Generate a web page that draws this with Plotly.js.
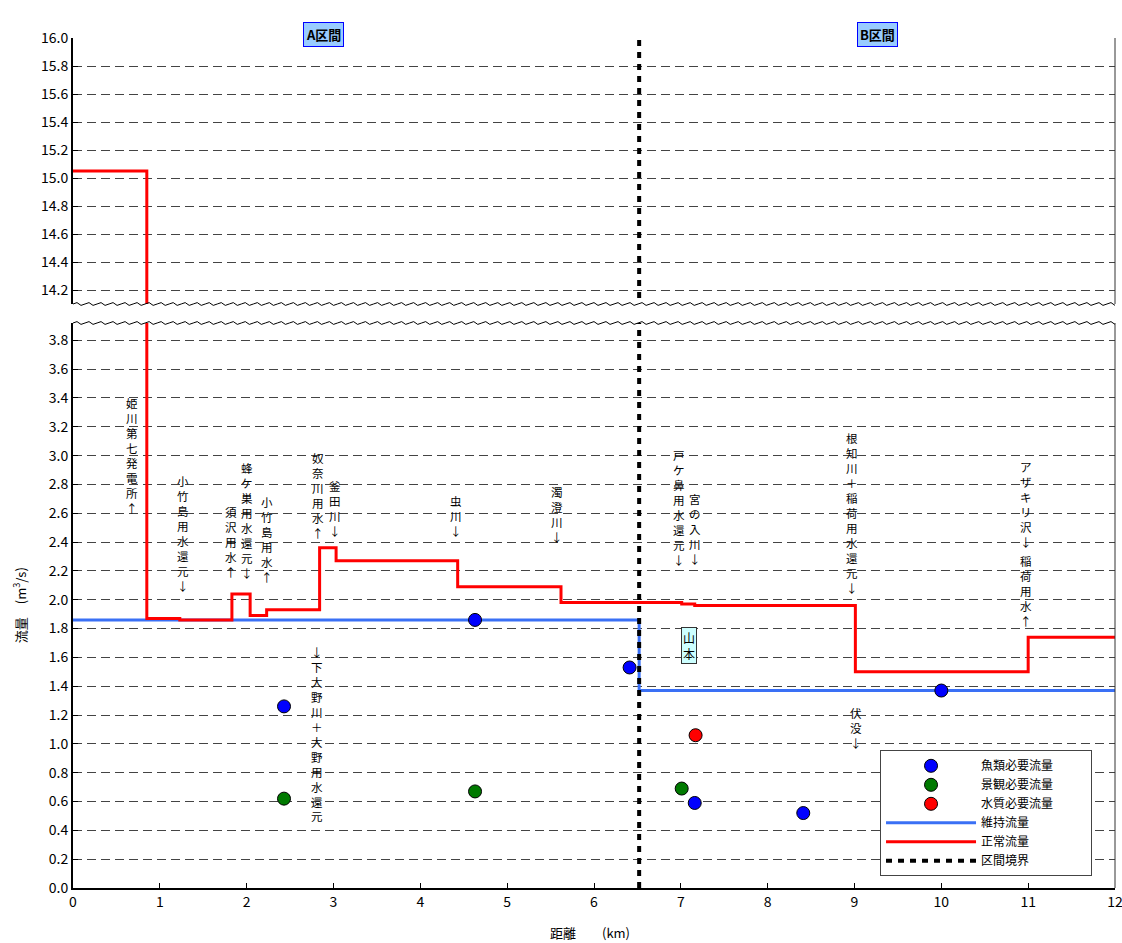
<!DOCTYPE html>
<html>
<head>
<meta charset="utf-8">
<script src="https://cdn.plot.ly/plotly-3.0.1.min.js"></script>
<style>html,body{margin:0;padding:0;background:#fff;}#chart{width:1122px;height:943px;}</style>
</head>
<body>
<div id="chart"></div>
<script>
// ---- data ----
const normalX = [0, 0.85, 1.23, 1.83, 2.04, 2.23, 2.84, 3.03, 4.43, 5.62, 7.01, 7.16, 9.01, 11.0, 12];
const normalY = [15.05, 1.87, 1.86, 2.04, 1.89, 1.93, 2.36, 2.27, 2.09, 1.98, 1.97, 1.96, 1.50, 1.74, 1.74];
const maintX = [0, 6.52, 12];
const maintY = [1.86, 1.37, 1.37];
const fishX = [2.43, 4.63, 6.41, 7.16, 8.41, 10.0];
const fishY = [1.26, 1.86, 1.53, 0.59, 0.52, 1.37];
const sceneX = [2.43, 4.63, 7.01];
const sceneY = [0.62, 0.67, 0.69];
const qualX = [7.17];
const qualY = [1.06];
const boundaryX = [6.52, 6.52];
const boundaryY = [0, 16];
const lowerTicks = [0,0.2,0.4,0.6,0.8,1.0,1.2,1.4,1.6,1.8,2.0,2.2,2.4,2.6,2.8,3.0,3.2,3.4,3.6,3.8];
const upperTicks = [14.2,14.4,14.6,14.8,15.0,15.2,15.4,15.6,15.8,16.0];
const xTicks = [0,1,2,3,4,5,6,7,8,9,10,11,12];
const labelTexts = ['姫川第七発電所↑','小竹島用水還元↓','須沢用水↑','蜂ケ巣用水還元↓','小竹島用水↑','奴奈川用水↑','釜田川↓','虫川↓','濁澄川↓','戸ケ鼻用水還元↓','宮の入川↓','根知川＋稲荷用水還元↓','アザキリ沢↓','稲荷用水↑','↓下大野川＋大野用水還元','伏没↓'];
const labelX = [0.675, 1.27, 1.82, 2.0, 2.23, 2.82, 3.02, 4.41, 5.57, 6.98, 7.16, 8.97, 10.98, 10.98, 2.81, 9.02];
const labelY = [3.0, 2.46, 2.40, 2.55, 2.42, 2.72, 2.63, 2.58, 2.59, 2.64, 2.49, 2.60, 2.66, 2.06, 1.07, 1.11];
const sectionNames = ['A区間', 'B区間'];
const sectionX = [2.88, 9.27];

const FONT = '"Noto Sans CJK JP", "Noto Sans", sans-serif';
const gridDash = '9px,5px';
const pad = '\u00a0\u00a0\u00a0\u00a0\u00a0\u00a0\u00a0\u00a0\u00a0\u00a0\u00a0\u00a0';

const fishT = {x: fishX, y: fishY, xaxis:'x', yaxis:'y', mode:'markers', name:'魚類必要流量' + pad, legendrank:1,
   marker:{color:'#0000ff', size:13, line:{color:'#000', width:1}}};
const sceneT = {x: sceneX, y: sceneY, xaxis:'x', yaxis:'y', mode:'markers', name:'景観必要流量', legendrank:2,
   marker:{color:'#007a00', size:13, line:{color:'#000', width:1}}};
const qualT = {x: qualX, y: qualY, xaxis:'x', yaxis:'y', mode:'markers', name:'水質必要流量', legendrank:3,
   marker:{color:'#ff0000', size:13, line:{color:'#000', width:1}}};
const maintT = {x: maintX, y: maintY, xaxis:'x', yaxis:'y', mode:'lines', name:'維持流量', legendrank:4,
   line:{color:'#3a70f5', width:3, shape:'hv'}};
const normalT = {x: normalX, y: normalY, xaxis:'x', yaxis:'y', mode:'lines', name:'正常流量', legendrank:5,
   line:{color:'#ff0000', width:3, shape:'hv'}};
const boundT = {x: boundaryX, y: boundaryY, xaxis:'x', yaxis:'y', mode:'lines', name:'区間境界', legendrank:6,
   line:{color:'#000', width:4, dash:'6px,6px'}};
const normalT2 = {x: normalX, y: normalY, xaxis:'x2', yaxis:'y2', mode:'lines', showlegend:false,
   line:{color:'#ff0000', width:3, shape:'hv'}, hoverinfo:'skip'};
const boundT2 = {x: boundaryX, y: boundaryY, xaxis:'x2', yaxis:'y2', mode:'lines', showlegend:false,
   line:{color:'#000', width:4, dash:'6px,6px'}, hoverinfo:'skip'};
const data = [maintT, normalT, boundT, normalT2, boundT2, fishT, sceneT, qualT];

const annotations = labelTexts.map((t, i) => ({
  text: Array.from(t).join('<br>'), x: labelX[i], y: labelY[i], xref:'x', yref:'y',
  showarrow:false, font:{family:FONT, size:11.5, color:'#000'}, xanchor:'center', yanchor:'middle'
}));
annotations.push({text:'山<br>本', x:7.09, y:1.68, xref:'x', yref:'y', showarrow:false,
  font:{family:FONT, size:12, color:'#000'}, bgcolor:'#ccffff', bordercolor:'#333', borderwidth:1, borderpad:1});
sectionNames.forEach((s, i) => annotations.push({
  text:'<b>'+s+'</b>', x:sectionX[i], y:1.019, xref:'x', yref:'paper', showarrow:false,
  font:{family:FONT, size:13, color:'#000'}, bgcolor:'#99ccff', bordercolor:'#0000ff', borderwidth:1, borderpad:2
}));
annotations.push({text:'距離　　(km)', x:0.496, y:-0.052, xref:'paper', yref:'paper', showarrow:false,
  xanchor:'center', yanchor:'middle', font:{family:FONT, size:13, color:'#000'}});
annotations.push({text:'流量　(m<sup>3</sup>/s)', x:-0.051, y:0.3325, xref:'paper', yref:'paper', showarrow:false,
  textangle:-90, xanchor:'center', yanchor:'middle', font:{family:FONT, size:13, color:'#000'}});

// wavy break lines (decoration)
function wave(yPaper) {
  let d = '';
  const n = 260;
  for (let i = 0; i <= n; i++) {
    const xp = i / n;
    const yp = yPaper + (1.6 / 850) * Math.sin(i * Math.PI / 1.5);
    d += (i === 0 ? 'M' : 'L') + xp.toFixed(5) + ',' + yp.toFixed(5);
  }
  return d;
}
const lowTop = (888 - 323) / 850;
const upBot = (888 - 304) / 850;
const shapes = [
  {type:'path', xref:'paper', yref:'paper', path: wave(lowTop), line:{color:'#000', width:1}},
  {type:'path', xref:'paper', yref:'paper', path: wave(upBot), line:{color:'#000', width:1}},
  {type:'line', xref:'paper', yref:'paper', x0:1, x1:1, y0:0, y1:lowTop, line:{color:'#333', width:1}},
  {type:'line', xref:'paper', yref:'paper', x0:1, x1:1, y0:upBot, y1:1, line:{color:'#333', width:1}}
];

const yCommon = {
  showline:true, linecolor:'#000', linewidth:2, mirror:false,
  ticks:'inside', ticklen:5, tickcolor:'#000',
  showgrid:true, gridcolor:'#444', gridwidth:1, griddash:gridDash,
  zeroline:false, tickformat:'.1f',
  tickfont:{family:FONT, size:14, color:'#000'}
};

const layout = {
  width:1122, height:943,
  margin:{l:73, r:7, t:38, b:55},
  paper_bgcolor:'#fff', plot_bgcolor:'#fff',
  font:{family:FONT, color:'#000'},
  showlegend:true,
  legend:{x:0.7745, y:0.162, xanchor:'left', yanchor:'top', bgcolor:'#fff',
    bordercolor:'#444', borderwidth:1, font:{family:FONT, size:12, color:'#000'},
    itemwidth:90, tracegroupgap:0, traceorder:'normal'},
  xaxis:{domain:[0,1], range:[0,12], anchor:'y', tickvals:xTicks, ticks:'inside', ticklen:5,
    tickcolor:'#000', showline:true, linecolor:'#000', linewidth:2, showgrid:false, zeroline:false,
    ticklabeloverflow:'allow', tickfont:{family:FONT, size:14, color:'#000'}},
  xaxis2:{domain:[0,1], range:[0,12], anchor:'y2', visible:false},
  yaxis:Object.assign({}, yCommon, {domain:[0, lowTop], range:[0, 3.92], tickvals:lowerTicks}),
  yaxis2:Object.assign({}, yCommon, {domain:[upBot, 1], range:[14.1, 16.0], tickvals:upperTicks, anchor:'x2'}),
  annotations: annotations,
  shapes: shapes
};

Plotly.newPlot('chart', data, layout, {displayModeBar:false, staticPlot:true});
</script>
</body>
</html>
